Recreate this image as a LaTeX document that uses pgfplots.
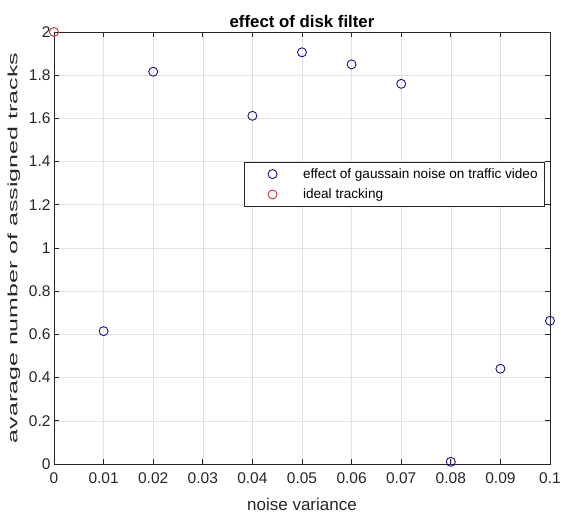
\documentclass[border=0pt]{standalone}
\usepackage{pgfplots}
\pgfplotsset{compat=1.18}
\usepackage{graphicx}
\usepackage{fontspec}
\setmainfont{Liberation Sans}
\definecolor{axc}{RGB}{38,38,38}
\definecolor{gridc}{RGB}{226,226,226}
\definecolor{mblue}{RGB}{20,20,140}
\definecolor{mred}{RGB}{205,50,50}
\begin{document}
\begin{tikzpicture}[x=1pt,y=1pt]
\begin{axis}[
  name=ax,
  scale only axis,
  width=496pt, height=432pt,
  xmin=0, xmax=0.1, ymin=0, ymax=2,
  xtick={0,0.01,...,0.1},
  ytick={0,0.2,...,2},
  xticklabels={0,0.01,0.02,0.03,0.04,0.05,0.06,0.07,0.08,0.09,0.1},
  yticklabels={0,0.2,0.4,0.6,0.8,1,1.2,1.4,1.6,1.8,2},
  tick align=inside,
  major tick length=5pt,
  grid=major,
  grid style={gridc, line width=0.6pt},
  axis line style={axc, line width=0.8pt},
  tick style={axc, line width=0.8pt},
  ticklabel style={font=\fontsize{15.5}{17}\selectfont, text=axc},
  xticklabel style={yshift=-5pt},
  /pgf/number format/assume math mode=true,
  xlabel={noise variance},
  ylabel={\scalebox{1.85}[1]{avarage number of assigned tracks}},
  label style={text=axc},
  xlabel style={font=\fontsize{17}{19}\selectfont, yshift=-8pt},
  ylabel style={font=\fontsize{13.5}{15}\selectfont, yshift=2pt},
  title={\textbf{effect of disk filter}},
  title style={font=\fontsize{16.8}{19}\selectfont, yshift=-5pt},
  clip=false,
  legend image code/.code={\path (0pt,0pt) (51pt,0pt); \draw[#1] plot coordinates {(23pt,0pt)};},
  legend style={at={(0.99,0.699)}, anchor=north east, draw=axc, line width=0.8pt,
    font=\fontsize{13.6}{15}\selectfont, inner xsep=5pt, inner ysep=4pt,
    row sep=5pt, column sep=0pt, cells={anchor=west}},
  legend cell align=left,
]
\addplot[only marks, mark=o, mark size=4.5pt, mblue, line width=0.9pt] coordinates {
  (0.01,0.615) (0.02,1.816) (0.04,1.612) (0.05,1.906) (0.06,1.850)
  (0.07,1.760) (0.08,0.010) (0.09,0.441) (0.1,0.663)
};
\addlegendentry{effect of gaussain noise on traffic video}
\addplot[only marks, mark=o, mark size=4.5pt, mred, line width=0.9pt] coordinates {
  (0,2)
};
\addlegendentry{ideal tracking}
\end{axis}
\pgfresetboundingbox
\path ([xshift=-54pt,yshift=-60pt]ax.south west) rectangle ([xshift=11pt,yshift=32pt]ax.north east);
\end{tikzpicture}
\end{document}
